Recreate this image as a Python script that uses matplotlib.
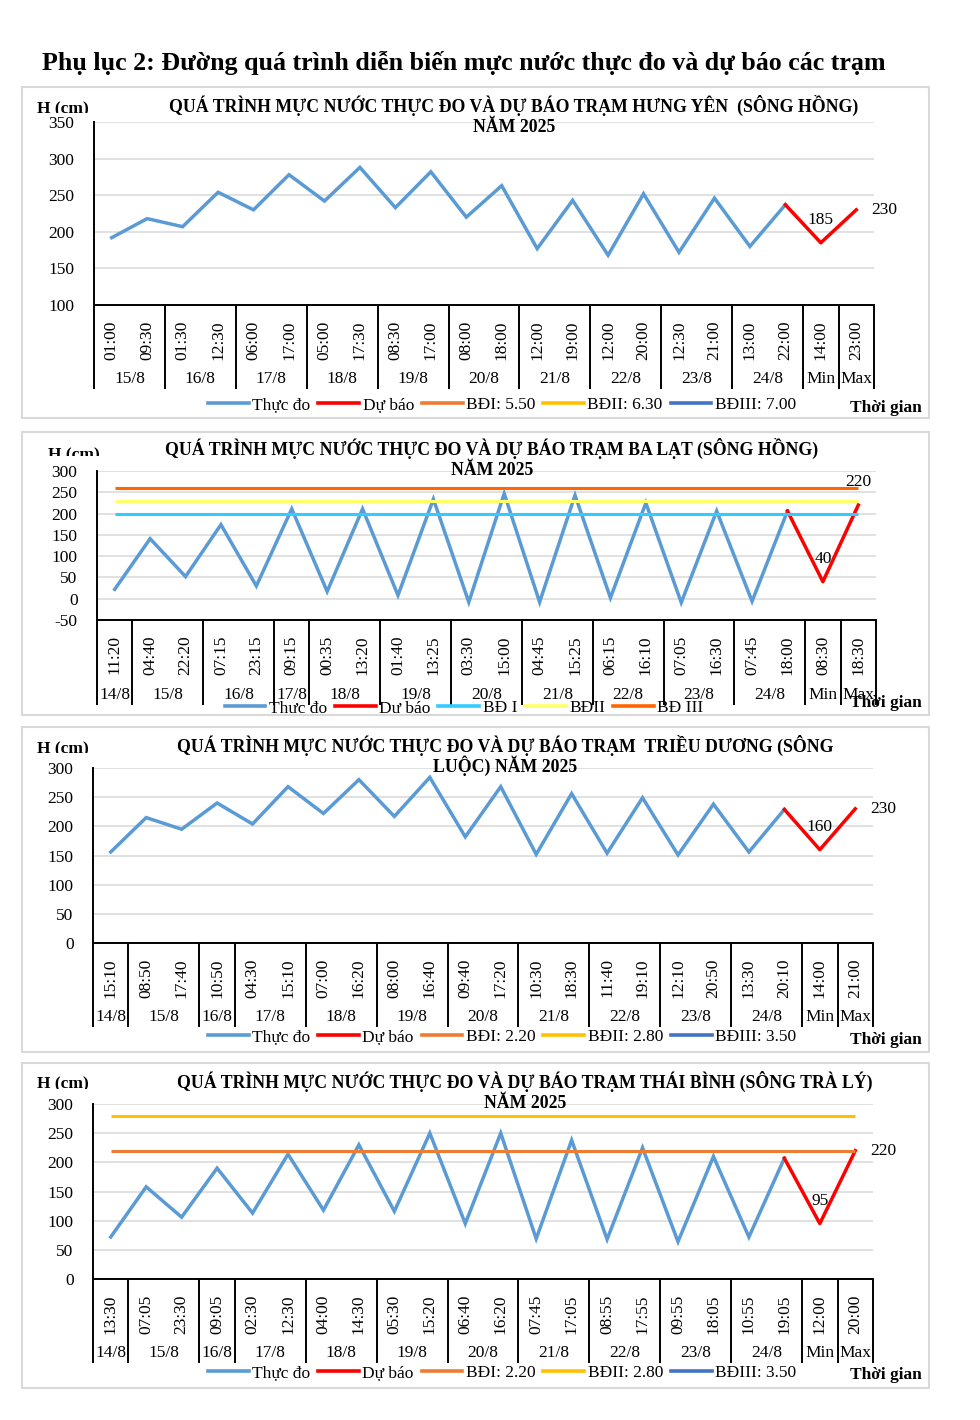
import matplotlib
matplotlib.use('Agg')
import matplotlib.pyplot as plt
from matplotlib.lines import Line2D
from matplotlib.patches import Rectangle
from matplotlib.transforms import Bbox, TransformedBbox

plt.rcParams['font.family'] = ['Liberation Serif', 'DejaVu Serif']
plt.rcParams['axes.unicode_minus'] = False

W, H = 980, 1420

## data (cm)
# Hưng Yên (sông Hồng)
hy_times = ['01:00', '09:30', '01:30', '12:30', '06:00', '17:00', '05:00', '17:30', '08:30', '17:00', '08:00',
            '18:00', '12:00', '19:00', '12:00', '20:00', '12:30', '21:00', '13:00', '22:00', '14:00', '23:00']
hy_days = ['15/8', '16/8', '17/8', '18/8', '19/8', '20/8', '21/8', '22/8', '23/8', '24/8', 'Min', 'Max']
hy_day_sizes = [2, 2, 2, 2, 2, 2, 2, 2, 2, 2, 1, 1]
hy_obs = [192, 218, 207, 254, 230, 278, 242, 288, 233, 282, 220, 263, 177, 243, 168, 252, 172, 246, 180, 237]
hy_fc = [185, 230]
hy_yticks = [100, 150, 200, 250, 300, 350]
hy_legend = ['Thực đo', 'Dự báo', 'BĐI: 5.50', 'BĐII: 6.30', 'BĐIII: 7.00']

# Ba Lạt (sông Hồng)
bl_times = ['11:20', '04:40', '22:20', '07:15', '23:15', '09:15', '00:35', '13:20', '01:40', '13:25', '03:30',
            '15:00', '04:45', '15:25', '06:15', '16:10', '07:05', '16:30', '07:45', '18:00', '08:30', '18:30']
bl_days = ['14/8', '15/8', '16/8', '17/8', '18/8', '19/8', '20/8', '21/8', '22/8', '23/8', '24/8', 'Min', 'Max']
bl_day_sizes = [1, 2, 2, 1, 2, 2, 2, 2, 2, 2, 2, 1, 1]
bl_obs = [22, 141, 52, 174, 30, 211, 17, 211, 8, 234, -8, 247, -8, 243, 2, 225, -9, 206, -6, 206]
bl_fc = [40, 220]
bl_levels = [200, 230, 260]   # BĐ I, BĐII, BĐ III
bl_yticks = [-50, 0, 50, 100, 150, 200, 250, 300]
bl_legend = ['Thực đo', 'Dự báo', 'BĐ I', 'BĐII', 'BĐ III']

# Triều Dương (sông Luộc)
td_times = ['15:10', '08:50', '17:40', '10:50', '04:30', '15:10', '07:00', '16:20', '08:00', '16:40', '09:40',
            '17:20', '10:30', '18:30', '11:40', '19:10', '12:10', '20:50', '13:30', '20:10', '14:00', '21:00']
td_days = ['14/8', '15/8', '16/8', '17/8', '18/8', '19/8', '20/8', '21/8', '22/8', '23/8', '24/8', 'Min', 'Max']
td_day_sizes = [1, 2, 1, 2, 2, 2, 2, 2, 2, 2, 2, 1, 1]
td_obs = [156, 215, 195, 240, 204, 268, 222, 280, 217, 284, 182, 268, 152, 256, 154, 249, 151, 238, 156, 229]
td_fc = [160, 230]
td_yticks = [0, 50, 100, 150, 200, 250, 300]
td_legend = ['Thực đo', 'Dự báo', 'BĐI: 2.20', 'BĐII: 2.80', 'BĐIII: 3.50']

# Thái Bình (sông Trà Lý)
tb_times = ['13:30', '07:05', '23:30', '09:05', '02:30', '12:30', '04:00', '14:30', '05:30', '15:20', '06:40',
            '16:20', '07:45', '17:05', '08:55', '17:55', '09:55', '18:05', '10:55', '19:05', '12:00', '20:00']
tb_days = ['14/8', '15/8', '16/8', '17/8', '18/8', '19/8', '20/8', '21/8', '22/8', '23/8', '24/8', 'Min', 'Max']
tb_day_sizes = [1, 2, 1, 2, 2, 2, 2, 2, 2, 2, 2, 1, 1]
tb_obs = [72, 158, 106, 190, 113, 214, 118, 230, 116, 250, 95, 250, 69, 238, 68, 225, 64, 210, 72, 207]
tb_fc = [95, 220]
tb_levels = [220, 280]   # BĐI, BĐII
tb_yticks = [0, 50, 100, 150, 200, 250, 300]
tb_legend = ['Thực đo', 'Dự báo', 'BĐI: 2.20', 'BĐII: 2.80', 'BĐIII: 3.50']

OBS_C = '#5B9BD5'
FC_C = '#FF0000'
STD_COLORS = ['#ED7D31', '#FFC000', '#4472C4']
BL_COLORS = ['#33CCFF', '#FFFF66', '#FF6600']
FS = 12.5

fig = plt.figure(figsize=(W / 100, H / 100), dpi=100)


def fy(py):
    return 1 - py / H


def panel(box, area, sep_bottom, day_y, titles, title_x, title_base, hcm, leg_xy, gian_y,
          times, days, sizes, obs, fc, yticks, labels, leg_colors, levels, level_colors, max_above=False):
    x0, y0, x1, y1 = area
    ax = fig.add_axes([x0 / W, fy(y1), (x1 - x0) / W, (y1 - y0) / H])
    n = len(times)
    xs = list(range(n))
    ax.plot(xs[:len(obs)], obs, color=OBS_C, lw=2.5, zorder=3, solid_joinstyle='miter')
    ax.plot(xs[len(obs) - 1:], [obs[-1]] + fc, color=FC_C, lw=2.5, zorder=3)
    for v, c in zip(levels, level_colors):
        ax.hlines(v, 0, n - 1, color=c, lw=2.2, zorder=4)

    ax.set_xlim(-0.5, n - 0.5)
    ax.set_ylim(yticks[0], yticks[-1])
    ax.set_yticks(yticks)
    ax.set_xticks(xs, times, rotation=90)
    ax.tick_params(axis='both', length=0, labelsize=FS)
    ax.tick_params(axis='y', pad=14)
    ax.tick_params(axis='x', pad=11)
    ax.grid(axis='y', color='#D9D9D9', lw=1.1, zorder=0)
    ax.set_axisbelow(True)
    for s in ['top', 'right']:
        ax.spines[s].set_visible(False)
    for s in ['left', 'bottom']:
        ax.spines[s].set_color('black')
        ax.spines[s].set_linewidth(1.4)

    # multi-level category axis: day groups with separators
    frac = (sep_bottom - y1) / (y1 - y0)
    dfrac = (day_y - y1) / (y1 - y0)
    start = 0
    bounds = [-0.5]
    for d, sz in zip(days, sizes):
        ax.text(start + sz / 2 - 0.5, -dfrac, d, transform=ax.get_xaxis_transform(),
                ha='center', va='center', fontsize=FS)
        start += sz
        bounds.append(start - 0.5)
    ax.vlines(bounds, -frac, 0, transform=ax.get_xaxis_transform(), color='black', lw=1.4, clip_on=False)

    # forecast value labels
    ax.annotate(str(fc[0]), (n - 2, fc[0]), xytext=(0, 16.5), textcoords='offset points',
                ha='center', va='center', fontsize=FS)
    off = (0, 16.5) if max_above else (20.5, 0)
    ax.annotate(str(fc[1]), (n - 1, fc[1]), xytext=off, textcoords='offset points',
                ha='center', va='center', fontsize=FS)

    # chart title (two lines)
    for t, b in zip(titles, title_base):
        fig.text(title_x / W, fy(b), t, ha='center', va='baseline', fontsize=12.8, fontweight='bold')

    # axis title, cut by the plot area as in the original
    hx, htop, hclip = hcm
    ht = fig.text(hx / W, fy(htop + 11.5), 'H (cm)', ha='left', va='baseline', fontsize=FS, fontweight='bold')
    ht.set_clip_box(TransformedBbox(Bbox([[0, fy(hclip)], [1, 1]]), fig.transFigure))
    ht.set_clip_on(True)

    handles = [Line2D([], [], color=c, lw=2.6) for c in leg_colors]
    fig.legend(handles, labels, loc='center', bbox_to_anchor=(leg_xy[0] / W, fy(leg_xy[1])), ncol=5,
               frameon=False, fontsize=FS, handlelength=2.35, handletextpad=0.2, columnspacing=0.45,
               borderaxespad=0, borderpad=0)
    fig.text(850 / W, fy(gian_y), 'Thời gian', ha='left', va='center', fontsize=FS, fontweight='bold')

    bx0, by0, bx1, by1 = box
    fig.patches.append(Rectangle((bx0 / W, fy(by1)), (bx1 - bx0) / W, (by1 - by0) / H, transform=fig.transFigure,
                                 fill=False, ec='#D9D9D9', lw=1.5, zorder=8))
    return ax


fig.text(463.5 / W, fy(63), 'Phụ lục 2: Đường quá trình diễn biến mực nước thực đo và dự báo các trạm',
         ha='center', va='center', fontsize=18.7, fontweight='bold')

panel((22, 87, 929, 418), (94, 122, 874, 305), 389, 379,
      ['QUÁ TRÌNH MỰC NƯỚC THỰC ĐO VÀ DỰ BÁO TRẠM HƯNG YÊN  (SÔNG HỒNG)', 'NĂM 2025'], 514, [112, 132],
      (37, 102, 113), (502, 405), 408,
      hy_times, hy_days, hy_day_sizes, hy_obs, hy_fc, hy_yticks, hy_legend,
      [OBS_C, FC_C] + STD_COLORS, [], [])

panel((22, 432, 929, 715), (97, 471, 876, 620), 705, 695,
      ['QUÁ TRÌNH MỰC NƯỚC THỰC ĐO VÀ DỰ BÁO TRẠM BA LẠT (SÔNG HỒNG)', 'NĂM 2025'], 492, [455, 475],
      (48, 448, 456), (464, 708), 703,
      bl_times, bl_days, bl_day_sizes, bl_obs, bl_fc, bl_yticks, bl_legend,
      [OBS_C, FC_C] + BL_COLORS, bl_levels, BL_COLORS, max_above=True)

panel((22, 727, 929, 1052), (93, 768, 873, 943), 1027, 1017,
      ['QUÁ TRÌNH MỰC NƯỚC THỰC ĐO VÀ DỰ BÁO TRẠM  TRIỀU DƯƠNG (SÔNG', 'LUỘC) NĂM 2025'], 505, [752, 772],
      (37, 742, 753), (502, 1037), 1040,
      td_times, td_days, td_day_sizes, td_obs, td_fc, td_yticks, td_legend,
      [OBS_C, FC_C] + STD_COLORS, [], [])

panel((22, 1063, 929, 1388), (93, 1104, 873, 1279), 1363, 1353,
      ['QUÁ TRÌNH MỰC NƯỚC THỰC ĐO VÀ DỰ BÁO TRẠM THÁI BÌNH (SÔNG TRÀ LÝ)', 'NĂM 2025'], 525, [1088, 1108],
      (37, 1077, 1089), (502, 1373), 1375,
      tb_times, tb_days, tb_day_sizes, tb_obs, tb_fc, tb_yticks, tb_legend,
      [OBS_C, FC_C] + STD_COLORS, tb_levels, STD_COLORS[:2])

# the Ba Lat legend is cut by its frame in the original
fig.patches.append(Rectangle((0, fy(726)), 1, (726 - 716) / H, transform=fig.transFigure,
                             fc='white', ec='none', zorder=7))

fig.savefig('out.png', dpi=100, facecolor='white')
